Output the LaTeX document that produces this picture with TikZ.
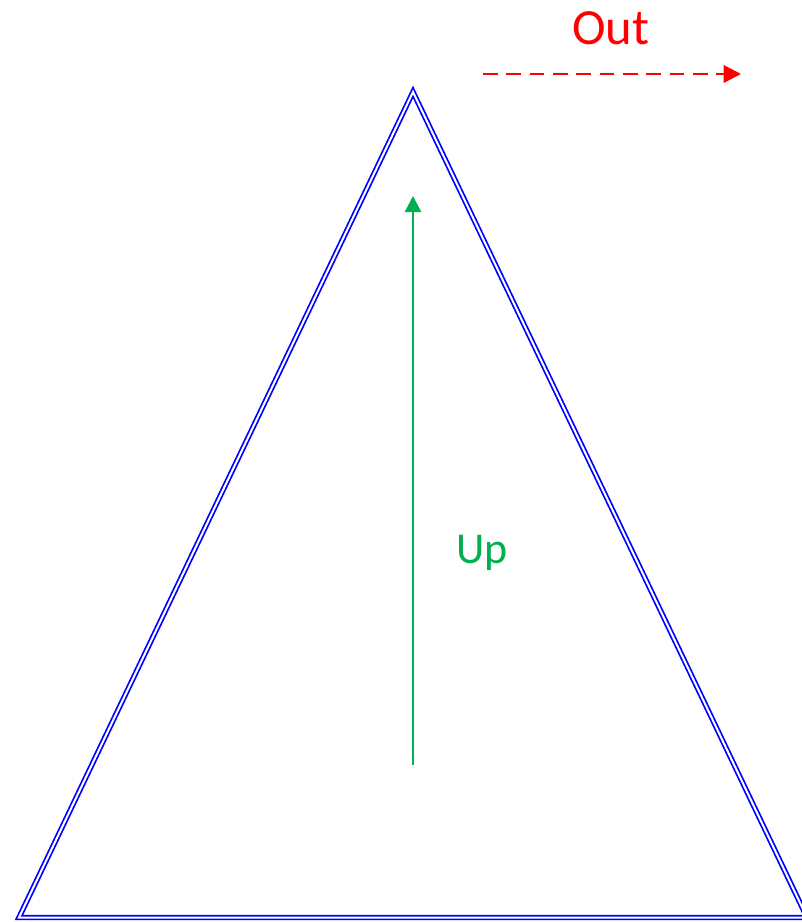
\documentclass[tikz,border=0pt]{standalone}
\usepackage{fontspec}
\setmainfont{Carlito}
\usetikzlibrary{arrows.meta}
\definecolor{upgreen}{RGB}{0,176,80}
\tikzset{
  tri/.style={draw=blue, double=white, double distance=1.5pt, line width=1.3pt, line join=miter},
  uparrow/.style={draw=upgreen, line width=1.8pt, -{Triangle[length=12pt,width=12pt]}},
  outarrow/.style={draw=red, line width=1.8pt, dash pattern=on 11pt off 6.5pt, -{Triangle[length=13pt,width=13pt]}},
}
\begin{document}
\begin{tikzpicture}[x=0.75pt,y=-0.75pt]
\useasboundingbox (0,0) rectangle (802,922);
\coordinate (apex) at (413,92);
\coordinate (bl) at (19,917.5);
\coordinate (br) at (807,917.5);
\draw[tri] (apex) -- (bl) -- (br) -- cycle;
\coordinate (upS) at (413,765);
\coordinate (upE) at (413,196);
\draw[uparrow] (upS) -- (upE);
\node[text=upgreen, font=\fontsize{33}{40}\selectfont] (uplabel) at (482,553) {Up};
\coordinate (outS) at (483,74);
\coordinate (outE) at (741,74);
\draw[outarrow] (outS) -- (outE);
\node[text=red, font=\fontsize{38}{45}\selectfont] (outlabel) at (611,28) {Out};
\end{tikzpicture}
\end{document}
